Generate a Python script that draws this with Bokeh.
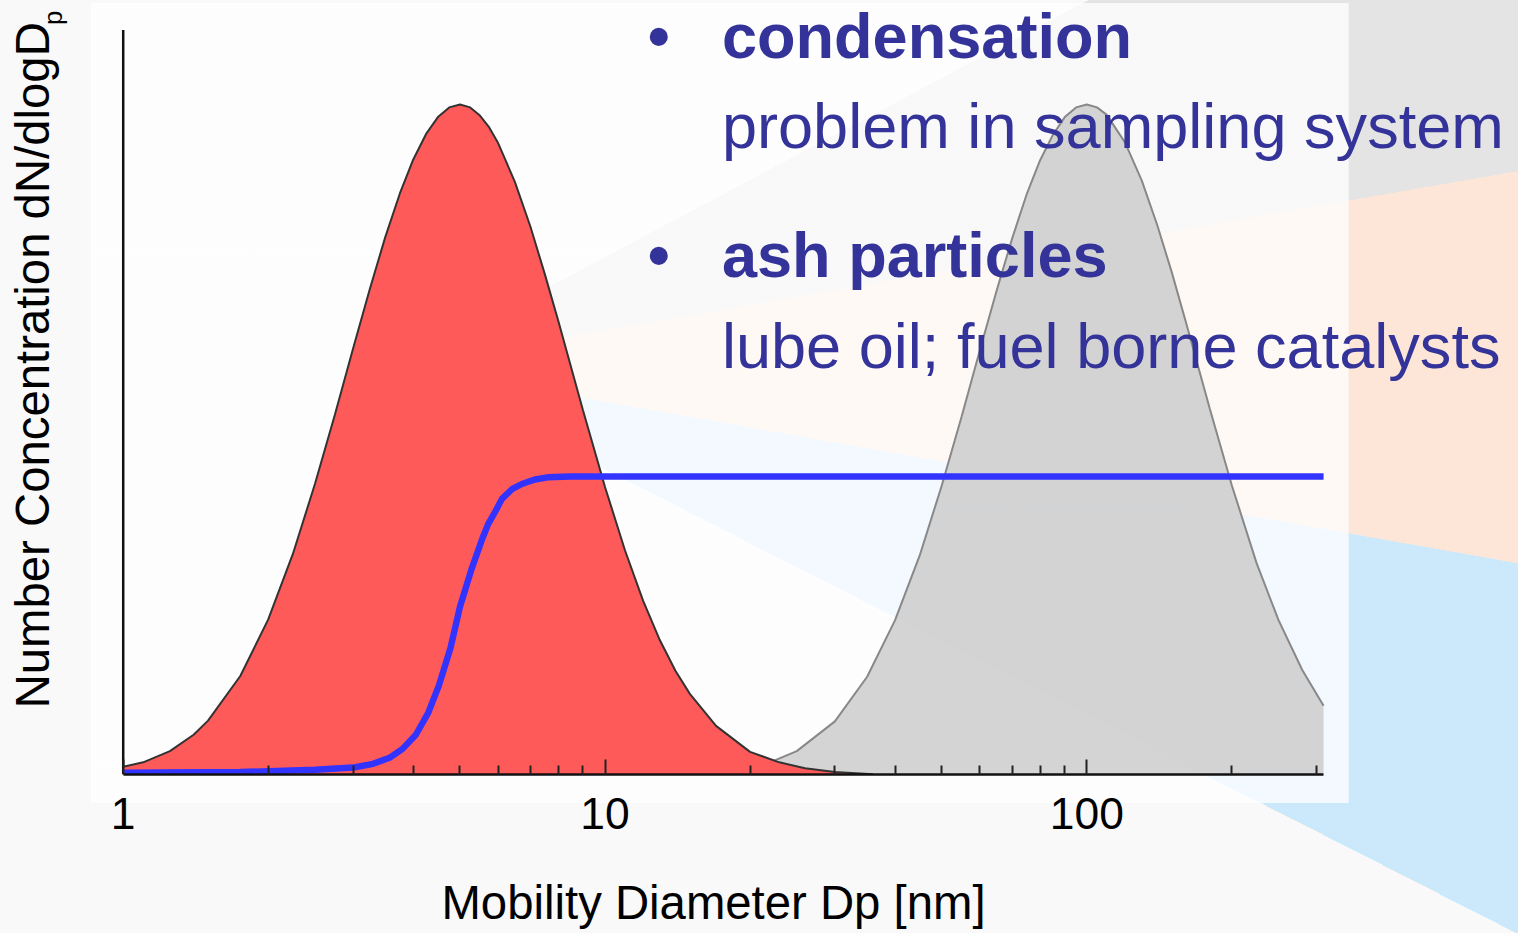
import math
from bokeh.plotting import figure
from bokeh.models import Range1d, FixedTicker, Label, NumeralTickFormatter
from bokeh.embed import file_html
from bokeh.resources import INLINE

# ---------------- data ----------------
RED_DP = [1, 1.1, 1.25, 1.4, 1.5, 1.75, 2, 2.25, 2.5, 2.75, 3, 3.25, 3.5, 3.75, 4, 4.25,
          4.5, 4.75, 5, 5.25, 5.5, 5.75, 6, 6.5, 7, 7.5, 8, 9, 10, 11, 12, 13, 14, 15,
          17, 20, 23, 26, 30, 36]
RED_N = [0.010, 0.016, 0.031, 0.053, 0.072, 0.132, 0.208, 0.296, 0.390, 0.483, 0.572,
         0.652, 0.722, 0.780, 0.826, 0.860, 0.883, 0.896, 0.900, 0.896, 0.885, 0.869,
         0.848, 0.796, 0.736, 0.672, 0.609, 0.489, 0.386, 0.301, 0.233, 0.180, 0.139,
         0.108, 0.065, 0.030, 0.016, 0.008, 0.003, 0.0]

GRAY_DP = [22, 25, 30, 35, 40, 45, 50, 55, 60, 65, 70, 75, 80, 85, 90, 95, 100, 105, 110,
           120, 130, 140, 150, 160, 180, 200, 225, 250, 280, 310]
GRAY_N = [0.016, 0.031, 0.071, 0.131, 0.207, 0.294, 0.388, 0.481, 0.570, 0.650, 0.720,
          0.779, 0.825, 0.859, 0.883, 0.896, 0.900, 0.896, 0.886, 0.849, 0.798, 0.738,
          0.675, 0.611, 0.491, 0.388, 0.284, 0.207, 0.140, 0.092]

BLUE_DP = [1, 1.75, 2.5, 3.0, 3.3, 3.57, 3.8, 4.05, 4.3, 4.52, 4.78, 5.0, 5.28, 5.56,
           5.72, 5.92, 6.11, 6.41, 6.72, 7.15, 7.6, 8.5, 310]
BLUE_E = [0.002, 0.003, 0.006, 0.009, 0.014, 0.022, 0.034, 0.053, 0.083, 0.119, 0.170,
          0.225, 0.275, 0.316, 0.336, 0.353, 0.370, 0.383, 0.390, 0.396, 0.399, 0.400, 0.400]

X_TICKS = [1, 10, 100]
X_TICK_LABELS = ["1", "10", "100"]
X_MINOR = [2, 3, 4, 5, 6, 7, 8, 9, 20, 30, 40, 50, 60, 70, 80, 90, 200, 300]
X_MIN, X_MAX = 1, 310
Y_MIN, Y_MAX = 0, 1

X_LABEL = "Mobility Diameter Dp [nm]"
Y_LABEL = "Number Concentration dN/dlogD"
Y_LABEL_SUB = "p"
BULLETS = ["condensation", "ash particles"]
DETAILS = ["problem in sampling system", "lube oil; fuel borne catalysts"]

# ---------------- layout (reference pixels, scaled to the figure) ----------------
FONT = "Liberation Sans"
TEXT_BLUE = "#333399"
REF_W, REF_H = 1534, 949
W, H = 1518, 933
SX, SY = W / REF_W, H / REF_H
FS = (SX + SY) / 2
AX_L, AX_R, AX_T, AX_B = 124, 1337, 30, 787      # axis box in reference pixels
FRAME_H = round(AX_B * SY)                        # frame spans the top of the canvas
FRAME_B_REF = FRAME_H / SY
BASE_SHIFT = 0.37                                 # label anchor -> baseline correction (em)


def px_x(X):
    t = (X - AX_L) / (AX_R - AX_L)
    return 10 ** (math.log10(X_MIN) + t * (math.log10(X_MAX) - math.log10(X_MIN)))


def px_y(Y):
    return Y_MIN + (AX_B - Y) / (AX_B - AX_T) * (Y_MAX - Y_MIN)


# CSS background: radiating wedges + translucent white panel
def ang(x, y, vx=405, vy=372):
    return math.degrees(math.atan2((x - vx) * SX, -(y - vy) * SY)) % 360

vx, vy = 405 * SX, 372 * SY
a1, a2, a3, a4 = ang(1100, 0), ang(1534, 174), ang(1534, 573), ang(1534, 950)
conic = (f"conic-gradient(at {vx:.1f}px {vy:.1f}px, #f9f9f9 0deg {a1:.2f}deg, "
         f"#e4e4e4 {a1:.2f}deg {a2:.2f}deg, #fde5d8 {a2:.2f}deg {a3:.2f}deg, "
         f"#cce8fb {a3:.2f}deg {a4:.2f}deg, #f9f9f9 {a4:.2f}deg 360deg)")
pan = "rgba(255,255,255,0.76)"
panel = (f"linear-gradient({pan}, {pan}) {92 * SX:.1f}px {3 * SY:.1f}px / "
         f"{(1363 - 92) * SX:.1f}px {(817 - 3) * SY:.1f}px no-repeat")

p = figure(width=W, height=H, x_axis_type="log",
           x_range=Range1d(px_x(0), px_x(REF_W)),
           y_range=Range1d(px_y(FRAME_B_REF), px_y(0)),
           y_axis_location=None,
           output_backend="svg", toolbar_location=None,
           min_border_left=0, min_border_right=0, min_border_top=0,
           min_border_bottom=H - FRAME_H)
p.title.visible = False
p.border_fill_color = None
p.background_fill_color = None
p.outline_line_color = None
p.grid.visible = False
p.styles = {"background": f"{panel}, {conic}", "background-color": "#f9f9f9"}

# x axis
xa = p.xaxis[0]
xa.bounds = (X_MIN, X_MAX)
xa.ticker = FixedTicker(ticks=X_TICKS, minor_ticks=X_MINOR)
xa.formatter = NumeralTickFormatter(format="0")
xa.major_label_overrides = {t: l for t, l in zip(X_TICKS, X_TICK_LABELS)}
xa.major_tick_in = 15
xa.major_tick_out = 0
xa.minor_tick_in = 9
xa.minor_tick_out = 0
xa.major_tick_line_width = 2
xa.minor_tick_line_width = 2
xa.major_tick_line_color = "#222222"
xa.minor_tick_line_color = "#222222"
xa.axis_line_width = 2.5
xa.axis_line_color = "#111111"
xa.major_label_text_font = FONT
xa.major_label_text_font_size = f"{45 * FS:.1f}px"
xa.major_label_text_color = "#000000"
xa.major_label_standoff = 23
# the axis label is centred on the full-width frame; trailing no-break spaces
# move its visible part to the reference position
xa.axis_label = X_LABEL + "\u00a0" * 7
xa.axis_label_text_font = FONT
xa.axis_label_text_font_size = f"{48 * FS:.1f}px"
xa.axis_label_text_font_style = "normal"
xa.axis_label_text_color = "#000000"
xa.axis_label_standoff = 44

# y axis line (plain line at the left edge of the data)
p.segment(x0=[X_MIN], y0=[Y_MIN], x1=[X_MIN], y1=[Y_MAX], line_color="#111111", line_width=2.5)

# distributions
p.varea(x=GRAY_DP, y1=0, y2=GRAY_N, fill_color="#cccccc", fill_alpha=0.85)
p.line(GRAY_DP, GRAY_N, line_color="#888888", line_width=2)
p.varea(x=RED_DP, y1=0, y2=RED_N, fill_color="#ff5555", fill_alpha=0.97)
p.line(RED_DP, RED_N, line_color="#333333", line_width=2)
p.line(BLUE_DP, BLUE_E, line_color="#3333ff", line_width=6.4, line_join="round")


# texts (positions in reference pixels: X, baseline Y)
def label(X, Y, text, size, color="#000000", bold=False, angle=0.0):
    s = size * FS
    if angle:
        X = X - BASE_SHIFT * size
    else:
        Y = Y - BASE_SHIFT * size
    p.add_layout(Label(x=px_x(X), y=px_y(Y), x_units="data", y_units="data", text=text,
                       text_font=FONT, text_font_size=f"{s:.1f}px", text_color=color,
                       text_font_style="bold" if bold else "normal",
                       text_align="left", text_baseline="alphabetic", angle=angle))

label(50, 720, Y_LABEL, 48, angle=math.pi / 2)
label(63, 25, Y_LABEL_SUB, 26, angle=math.pi / 2)

for (bl, dt), yb, yd in zip(zip(BULLETS, DETAILS), [60, 283], [151, 375]):
    label(654, yb, "\u2022", 64, TEXT_BLUE, bold=True)
    label(729, yb, bl, 64, TEXT_BLUE, bold=True)
    label(729, yd, dt, 64, TEXT_BLUE)

open("out.html", "w").write(file_html(p, INLINE))
